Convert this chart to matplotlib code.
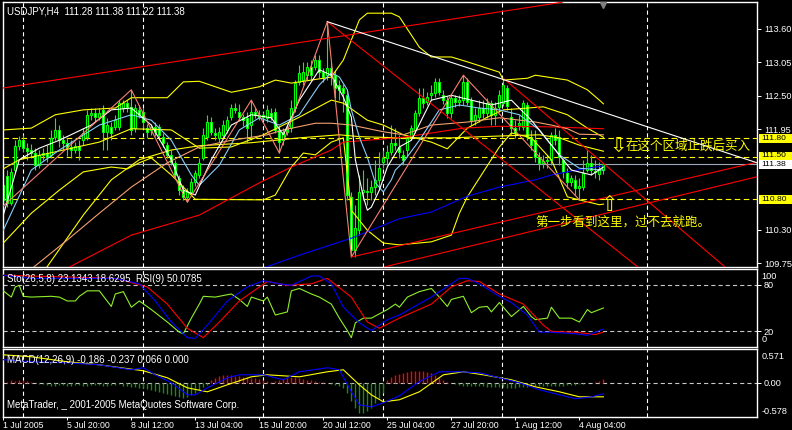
import numpy as np
import matplotlib.pyplot as plt
from matplotlib.patches import Rectangle

plt.rcParams['font.family'] = ['Liberation Sans', 'DejaVu Sans']
plt.rcParams['lines.scale_dashes'] = False

# USDJPY H4 bars, first bar = 1 Jul 2005 04:00
opens = [110.79, 111.18, 110.74, 111.28, 111.68, 111.77, 111.64, 111.61, 111.56, 111.36,
         111.53, 111.56, 111.53, 111.82, 111.94, 111.77, 111.73, 111.66, 111.61, 111.68,
         111.77, 111.82, 112.19, 112.22, 112.15, 112.27, 111.91, 111.99, 111.99, 111.99,
         112.30, 112.38, 112.32, 111.97, 112.27, 112.23, 111.97, 111.94, 111.99, 111.99,
         111.82, 111.69, 111.53, 111.40, 111.15, 110.95, 110.84, 110.92, 111.08, 111.20,
         111.48, 111.82, 112.07, 111.89, 111.81, 111.86, 111.94, 112.15, 112.30, 112.23,
         112.15, 112.14, 112.02, 112.23, 112.19, 112.15, 112.14, 112.22, 112.23, 111.94,
         111.77, 111.91, 111.97, 112.30, 112.73, 112.76, 112.84, 112.98, 112.98, 113.09,
         112.89, 112.84, 112.96, 112.84, 112.68, 112.63, 112.51, 110.84, 109.97, 110.29,
         110.92, 110.92, 110.92, 111.00, 111.12, 111.41, 111.48, 111.58, 111.73, 111.66,
         111.53, 111.61, 111.82, 111.94, 112.22, 112.47, 112.40, 112.51, 112.55, 112.73,
         112.51, 112.43, 112.22, 112.47, 112.40, 112.43, 112.73, 112.43, 112.10, 112.15,
         112.30, 112.22, 112.38, 112.19, 112.32, 112.38, 112.63, 112.15, 111.97, 112.02,
         111.99, 112.35, 111.82, 111.77, 111.49, 111.40, 111.43, 111.45, 111.86, 111.82,
         111.45, 111.23, 111.08, 111.12, 110.98, 111.00, 111.28, 111.40, 111.26, 111.22,
         111.28]
highs = [111.12, 111.28, 111.31, 111.77, 111.84, 111.86, 111.73, 111.71, 111.64, 111.61,
         111.64, 111.69, 111.94, 112.14, 112.02, 111.86, 111.81, 111.77, 111.74, 111.77,
         111.97, 112.27, 112.30, 112.30, 112.30, 112.35, 112.14, 112.07, 112.19, 112.43,
         112.43, 112.43, 112.60, 112.37, 112.35, 112.30, 112.04, 112.04, 112.07, 112.04,
         111.89, 111.74, 111.61, 111.45, 111.20, 111.03, 110.98, 111.15, 111.28, 111.48,
         111.97, 112.19, 112.15, 111.97, 111.99, 112.10, 112.17, 112.37, 112.38, 112.37,
         112.20, 112.23, 112.43, 112.30, 112.27, 112.23, 112.35, 112.30, 112.30, 112.00,
         111.97, 112.04, 112.43, 112.76, 113.01, 113.06, 113.06, 113.09, 113.17, 113.17,
         112.96, 113.72, 113.06, 112.93, 112.76, 112.70, 112.60, 110.92, 110.71, 111.20,
         111.28, 111.15, 111.12, 111.45, 111.58, 111.61, 111.69, 112.02, 111.97, 111.86,
         111.61, 111.86, 112.02, 112.27, 112.63, 112.63, 112.56, 112.68, 112.79, 112.79,
         112.60, 112.50, 112.51, 112.51, 112.51, 112.84, 112.79, 112.48, 112.30, 112.43,
         112.43, 112.47, 112.43, 112.40, 112.60, 112.79, 112.68, 112.30, 112.10, 112.19,
         112.43, 112.40, 111.94, 111.94, 111.58, 111.53, 111.53, 111.91, 111.97, 111.94,
         111.48, 111.31, 111.20, 111.20, 111.15, 111.45, 111.61, 111.53, 111.45, 111.41,
         111.38]
lows = [110.69, 110.67, 110.71, 111.25, 111.61, 111.58, 111.45, 111.48, 111.28, 111.31,
        111.45, 111.41, 111.48, 111.77, 111.66, 111.61, 111.51, 111.48, 111.56, 111.45,
        111.69, 111.77, 112.10, 112.07, 112.10, 111.61, 111.61, 111.77, 111.94, 111.94,
        112.23, 112.23, 111.86, 111.91, 112.14, 111.97, 111.81, 111.86, 111.84, 111.77,
        111.66, 111.48, 111.36, 111.15, 110.87, 110.79, 110.75, 110.87, 111.02, 111.15,
        111.45, 111.77, 111.86, 111.77, 111.74, 111.81, 111.89, 112.10, 112.22, 112.10,
        112.00, 111.74, 111.77, 112.14, 112.10, 112.10, 112.07, 112.10, 111.89, 111.56,
        111.69, 111.86, 111.91, 112.23, 112.68, 112.68, 112.76, 112.76, 112.93, 112.79,
        112.73, 112.76, 112.68, 112.47, 112.43, 112.23, 110.79, 109.85, 109.85, 110.21,
        110.79, 110.71, 110.79, 110.87, 110.95, 111.31, 111.36, 111.53, 111.61, 111.48,
        111.36, 111.49, 111.77, 111.89, 112.17, 112.30, 112.35, 112.43, 112.48, 112.51,
        112.37, 112.14, 112.14, 112.32, 112.33, 112.35, 112.35, 112.02, 112.02, 112.07,
        112.14, 112.14, 112.02, 112.02, 112.23, 112.33, 112.27, 111.86, 111.81, 111.94,
        111.94, 111.77, 111.61, 111.41, 111.28, 111.31, 111.31, 111.36, 111.69, 111.36,
        111.15, 110.98, 111.02, 110.87, 110.79, 110.95, 111.25, 111.20, 111.15, 111.12,
        111.22]
closes = [111.03, 110.74, 111.25, 111.68, 111.77, 111.64, 111.59, 111.56, 111.36, 111.53,
          111.56, 111.49, 111.81, 111.94, 111.77, 111.73, 111.66, 111.61, 111.68, 111.61,
          111.89, 112.19, 112.22, 112.15, 112.22, 111.91, 112.02, 111.89, 112.10, 112.38,
          112.38, 112.32, 111.94, 112.30, 112.19, 112.07, 111.91, 111.99, 111.91, 111.86,
          111.73, 111.53, 111.41, 111.20, 110.95, 110.84, 110.92, 111.08, 111.23, 111.40,
          111.86, 112.07, 111.91, 111.86, 111.91, 112.02, 112.10, 112.30, 112.27, 112.15,
          112.10, 111.97, 112.23, 112.19, 112.15, 112.19, 112.27, 112.15, 111.94, 111.74,
          111.91, 111.97, 112.30, 112.71, 112.88, 112.89, 112.98, 112.84, 113.09, 112.89,
          112.81, 112.96, 112.84, 112.63, 112.60, 112.55, 110.87, 109.97, 110.33, 110.92,
          110.95, 110.92, 111.00, 111.12, 111.31, 111.48, 111.58, 111.73, 111.69, 111.58,
          111.45, 111.81, 111.97, 112.22, 112.47, 112.38, 112.48, 112.55, 112.73, 112.56,
          112.43, 112.22, 112.47, 112.40, 112.43, 112.73, 112.40, 112.10, 112.19, 112.30,
          112.22, 112.38, 112.19, 112.30, 112.51, 112.68, 112.33, 111.97, 111.89, 112.05,
          112.38, 111.82, 111.69, 111.49, 111.40, 111.43, 111.45, 111.86, 111.77, 111.49,
          111.25, 111.08, 111.15, 110.98, 111.02, 111.23, 111.40, 111.28, 111.25, 111.28,
          111.38]

# zigzag turning bars (low, high, low, ...)
zz_bars = [0, 32, 46, 62, 69, 81, 87, 115, 144]

# moving averages / bands as (bar, price)
ma_white = [(0, 110.54), (4, 111.45), (9, 111.64), (14, 111.77), (22, 112.02), (27, 112.27), (32, 112.30),
            (37, 112.02), (42, 111.45), (45, 110.95), (48, 110.87), (52, 111.45), (57, 112.02), (62, 112.19),
            (67, 112.14), (70, 111.86), (74, 112.43), (79, 112.93), (82, 112.84), (85, 112.48), (87, 112.15),
            (88, 111.45), (90, 110.84), (91, 110.62), (92, 110.67), (94, 110.95), (96, 111.33), (99, 111.66),
            (102, 111.77), (107, 112.43), (112, 112.51), (117, 112.43), (122, 112.35), (127, 112.43),
            (132, 112.10), (137, 111.69), (142, 111.28), (147, 111.20), (150, 111.33)]
ma_skyblue = [(0, 110.29), (7, 111.28), (14, 111.61), (24, 112.02), (32, 112.19), (37, 112.10), (42, 111.77),
              (47, 111.20), (49, 111.03), (54, 111.36), (59, 111.94), (64, 112.14), (69, 112.02), (74, 112.19),
              (79, 112.68), (82, 112.88), (84, 112.81), (86, 112.60), (87, 112.27), (89, 111.82), (91, 111.49),
              (93, 111.07), (95, 110.92), (97, 111.12), (98, 111.28), (100, 111.41), (104, 111.77),
              (109, 112.27), (114, 112.35), (119, 112.30), (124, 112.27), (129, 112.19), (134, 111.94),
              (139, 111.53), (144, 111.31), (150, 111.28)]
ma_orange = [(6, 109.60), (16, 110.13), (24, 110.57), (32, 111.00), (41, 111.40), (49, 111.66), (57, 111.77),
             (66, 111.86), (70, 111.94), (78, 112.05), (82, 112.05), (87, 112.02), (95, 111.91), (100, 111.86),
             (107, 112.02), (116, 112.07), (124, 112.14), (133, 112.07), (137, 112.02), (141, 111.96),
             (144, 111.87), (150, 111.86)]
ma_yellow_slow = [(10, 109.60), (20, 110.54), (27, 111.12), (34, 111.45), (42, 111.61), (49, 111.68),
                  (62, 111.73), (74, 111.81), (84, 111.86), (89, 111.83), (99, 111.81), (112, 111.81),
                  (124, 111.84), (134, 111.86), (139, 111.81), (144, 111.69), (150, 111.59)]
ma_red = [(14, 109.60), (32, 110.21), (49, 110.54), (64, 111.07), (72, 111.33), (82, 111.61), (85, 111.74),
          (91, 111.77), (100, 111.82), (115, 111.97), (124, 112.00), (137, 111.99), (150, 111.96)]
ma_blue = [(62, 109.60), (74, 109.88), (87, 110.16), (99, 110.48), (107, 110.59), (116, 110.85), (124, 111.00),
           (133, 111.12), (137, 111.20), (145, 111.30), (150, 111.35)]
bb_upper = [(0, 111.94), (7, 111.97), (13, 112.19), (20, 112.27), (28, 112.30), (32, 112.47), (41, 112.47),
            (45, 112.73), (49, 112.74), (53, 112.65), (57, 112.56), (64, 112.65), (68, 112.76), (72, 112.71),
            (82, 112.81), (85, 113.09), (87, 113.42), (89, 113.75), (91, 113.86), (97, 113.86), (99, 113.80),
            (104, 113.30), (107, 113.14), (112, 113.14), (116, 113.06), (124, 112.89), (125, 112.76),
            (131, 112.79), (133, 112.84), (141, 112.76), (146, 112.60), (149, 112.43), (150, 112.37)]
bb_mid = [(0, 111.30), (4, 111.45), (13, 111.58), (24, 111.74), (32, 111.96), (42, 111.94), (49, 111.64),
          (57, 111.66), (65, 111.86), (74, 112.15), (82, 112.43), (85, 112.38), (91, 112.10), (95, 112.02),
          (100, 111.86), (107, 111.74), (111, 111.63), (116, 111.97), (121, 112.15), (125, 112.27),
          (135, 112.32), (141, 112.19), (146, 111.97), (150, 111.82)]
bb_lower = [(0, 110.08), (7, 110.57), (14, 110.95), (20, 111.25), (27, 111.33), (31, 111.30), (34, 111.40),
            (37, 111.48), (42, 111.20), (48, 110.80), (65, 110.79), (68, 110.87), (72, 111.33), (75, 111.56),
            (78, 111.53), (82, 111.74), (85, 111.81), (87, 110.62), (91, 110.29), (95, 110.08), (99, 110.05),
            (107, 110.10), (112, 110.21), (114, 110.57), (116, 110.84), (120, 111.25), (124, 111.66),
            (127, 111.89), (132, 111.81), (137, 111.45), (141, 110.84), (144, 110.79), (149, 110.71),
            (150, 110.72)]

# hand drawn objects: ((bar, price), (bar, price))
red_lines = [((0, 112.63), (139.7, 114.04)),
             ((81, 113.72), (188.4, 108.14)),
             ((125, 112.79), (188.4, 109.24)),
             ((87, 109.85), (188.4, 111.41)),
             ((95.4, 109.69), (188.4, 111.17))]
white_line = ((81, 113.72), (188.4, 111.40))
levels = [111.80, 111.50, 110.80]

# stochastic (26,5,8) and RSI(9)
sto_main = [(0, 92), (7, 88), (16, 88), (28, 88), (34, 81), (38, 59), (42, 32), (46, 12), (48, 11), (51, 28),
            (56, 59), (61, 77), (65, 85), (69, 81), (72, 79), (77, 91), (79, 91), (82, 81), (85, 51), (89, 31),
            (92, 21), (96, 35), (99, 41), (107, 64), (114, 88), (116, 88), (119, 81), (124, 65), (127, 57),
            (131, 41), (134, 19), (137, 19), (143, 17), (146, 15), (150, 23)]
sto_signal = [(0, 92), (28, 88), (36, 77), (41, 55), (46, 24), (50, 12), (54, 32), (59, 59), (66, 84), (71, 79),
              (77, 81), (81, 88), (87, 64), (91, 32), (94, 24), (99, 37), (107, 55), (112, 77), (116, 85),
              (119, 84), (124, 68), (130, 55), (135, 28), (137, 20), (143, 19), (148, 16), (150, 19)]
rsi = [(0, 72), (2, 64), (3, 77), (4, 79), (5, 65), (7, 64), (12, 65), (14, 64), (16, 59), (18, 59), (19, 65),
       (21, 72), (24, 72), (27, 52), (28, 68), (30, 71), (32, 51), (34, 59), (37, 48), (41, 32), (44, 19),
       (45, 17), (47, 37), (49, 55), (50, 65), (53, 64), (57, 68), (59, 61), (61, 52), (62, 64), (65, 59),
       (66, 64), (68, 41), (71, 45), (72, 72), (74, 75), (77, 68), (79, 64), (82, 55), (84, 37), (86, 21),
       (87, 12), (88, 31), (90, 37), (92, 37), (96, 48), (98, 55), (99, 51), (101, 64), (104, 71), (107, 75),
       (109, 64), (111, 52), (112, 61), (115, 65), (117, 44), (119, 51), (121, 52), (122, 45), (124, 57),
       (127, 39), (130, 52), (132, 39), (133, 35), (136, 37), (137, 51), (139, 37), (142, 37), (144, 32),
       (146, 48), (147, 44), (150, 50)]

# MACD(12,26,9)
macd_main = [(0, 0.39), (7, 0.355), (16, 0.338), (24, 0.304), (32, 0.22), (35, 0.254), (38, 0.135), (42, 0.0),
             (46, -0.203), (48, -0.203), (51, -0.085), (56, 0.085), (59, 0.135), (65, 0.135), (70, 0.051),
             (74, 0.186), (81, 0.254), (84, 0.22), (87, -0.152), (89, -0.372), (92, -0.406), (95, -0.338),
             (99, -0.22), (104, 0.02), (109, 0.186), (114, 0.186), (119, 0.169), (124, 0.085), (129, 0.0),
             (134, -0.118), (139, -0.203), (143, -0.27), (147, -0.237), (150, -0.186)]
macd_signal = [(0, 0.473), (7, 0.44), (16, 0.355), (24, 0.304), (35, 0.203), (41, 0.085), (46, -0.085),
               (51, -0.152), (56, -0.034), (62, 0.101), (66, 0.135), (74, 0.101), (81, 0.186), (85, 0.22),
               (89, -0.034), (92, -0.203), (95, -0.321), (99, -0.287), (104, -0.152), (110, 0.135),
               (115, 0.186), (120, 0.135), (127, 0.051), (133, -0.068), (139, -0.152), (144, -0.237),
               (150, -0.237)]
macd_hist = [0.03, 0.02, 0.05, 0.03, 0.05, 0.05, 0.03, 0.02, 0.0, -0.02,
             -0.02, -0.03, -0.05, -0.05, -0.03, -0.03, -0.05, -0.05, -0.03, -0.03,
             -0.05, -0.05, -0.03, -0.03, -0.03, -0.05, -0.05, -0.03, -0.03, -0.02,
             -0.05, -0.05, -0.07, -0.07, -0.08, -0.08, -0.10, -0.12, -0.14, -0.15,
             -0.17, -0.19, -0.20, -0.22, -0.24, -0.25, -0.24, -0.20, -0.17, -0.12,
             -0.07, -0.03, 0.05, 0.08, 0.12, 0.14, 0.14, 0.14, 0.12, 0.12,
             0.10, 0.10, 0.08, 0.08, 0.07, 0.05, 0.03, 0.02, 0.03, 0.05,
             0.07, 0.08, 0.10, 0.10, 0.08, 0.07, 0.05, 0.05, 0.03, 0.02,
             0.02, 0.0, -0.02, -0.03, -0.05, -0.08, -0.17, -0.30, -0.42, -0.51,
             -0.51, -0.47, -0.42, -0.34, -0.25, -0.17, 0.05, 0.10, 0.14, 0.15,
             0.17, 0.19, 0.20, 0.20, 0.20, 0.20, 0.19, 0.17, 0.14, 0.08,
             0.05, 0.02, 0.0, -0.02, -0.03, -0.05, -0.05, -0.05, -0.05, -0.05,
             -0.05, -0.07, -0.07, -0.07, -0.07, -0.07, -0.08, -0.08, -0.08, -0.07,
             -0.07, -0.07, -0.05, -0.05, -0.05, -0.05, -0.05, -0.05, -0.05, -0.05,
             -0.05, -0.03, -0.03, -0.03, -0.02, -0.02, 0.0, 0.0, 0.02, 0.03,
             0.066]

main_ticks = [113.60, 113.05, 112.50, 111.95, 110.30, 109.75]
date_labels = ['1 Jul 2005', '5 Jul 20:00', '8 Jul 12:00', '13 Jul 04:00', '15 Jul 20:00',
               '20 Jul 12:00', '25 Jul 04:00', '27 Jul 20:00', '1 Aug 12:00', '4 Aug 04:00']
week_bars = [4.85, 34.85, 64.85, 94.85, 124.75, 160.85]

o = np.array(opens); h = np.array(highs); l = np.array(lows); c = np.array(closes)
x = np.arange(len(c))

FS = 6.6
DASH = (0, (3, 2.2))
fig = plt.figure(figsize=(7.92, 4.30), dpi=100, facecolor='black')


def panel(top, bottom):
    a = fig.add_axes([3 / 792, 1 - bottom / 430, 754 / 792, (bottom - top) / 430])
    a.set_facecolor('black')
    for s in a.spines.values():
        s.set_color('white')
        s.set_linewidth(1)
    a.set_xlim(-0.075, 188.4)
    a.yaxis.tick_right()
    a.tick_params(colors='white', labelsize=FS, length=3, width=0.7, pad=2)
    a.set_xticks([])
    for wb in week_bars:
        a.axvline(wb, color='white', lw=0.8, ls=DASH, zorder=0.5)
    return a


def trace(a, pts, color, lw=0.8, z=3):
    px, py = zip(*pts)
    a.plot(px, py, color=color, lw=lw, zorder=z)


# ---------- main price chart ----------
ax = panel(2, 267)
ax.set_ylim(109.686, 114.044)
ax.set_yticks(main_ticks)
ax.set_yticklabels(['%.2f' % t for t in main_ticks])

for lv in levels:
    ax.axhline(lv, color='#ffff00', lw=0.8, ls=(0, (4, 2.5)), zorder=1)
ax.axhline(c[-1], color='#9aa8b8', lw=0.8, zorder=1)

# candles: bull = black body, bear = white body, lime outline
ax.vlines(x, l, h, color='#00ff00', lw=0.8, zorder=2)
body = np.maximum(np.abs(c - o), 0.008)
face = np.where(c >= o, 'black', 'white')
ax.bar(x, body, bottom=np.minimum(o, c), width=0.55, color=face, edgecolor='#00ff00',
       linewidth=0.8, zorder=2.1)

trace(ax, bb_upper, '#ffff00')
trace(ax, bb_mid, '#ffff00')
trace(ax, bb_lower, '#ffff00')
trace(ax, ma_yellow_slow, '#ffff00')
trace(ax, ma_red, '#ff0000')
trace(ax, ma_orange, '#f4a070')
trace(ax, ma_blue, '#0000ff')
trace(ax, ma_skyblue, '#87cefa')
trace(ax, ma_white, 'white')

zz_price = [l[b] if k % 2 == 0 else h[b] for k, b in enumerate(zz_bars)]
ax.plot(zz_bars, zz_price, color='#fa8072', lw=0.8, zorder=3.2)

for (x1, y1), (x2, y2) in red_lines:
    ax.plot([x1, x2], [y1, y2], color='#ff0000', lw=0.8, zorder=3.5)
(x1, y1), (x2, y2) = white_line
ax.plot([x1, x2], [y1, y2], color='white', lw=0.8, zorder=3.5)

# price boxes on the right scale
ytr = ax.get_yaxis_transform()
for lv, bg, dy in [(111.80, '#ffff00', 0), (111.50, '#ffff00', 0.012), (110.80, '#ffff00', 0),
                   (c[-1], 'white', -0.012)]:
    ax.add_patch(Rectangle((1.002, lv + dy - 0.07), 33 / 754, 0.14, transform=ytr, fc=bg, ec='none',
                           clip_on=False, zorder=9))
    ax.text(1.006, lv + dy, '%.2f' % lv, transform=ytr, ha='left', va='center', fontsize=FS - 0.5,
            color='black', clip_on=False, zorder=10)

ax.text(4 / 754, 1 - 9 / 265, 'USDJPY,H4  %.2f %.2f %.2f %.2f' % (o[-1], h[-1], l[-1], c[-1]),
        transform=ax.transAxes, color='white', fontsize=FS + 0.4, va='center')
ax.plot([x[-1]], [113.99], marker='v', color='#808080', ms=5, zorder=5, clip_on=False)

cjk = ['Noto Sans CJK SC', 'DejaVu Sans']
ax.text(153.6, 111.68, '⇩', color='#ffff00', fontsize=15, family=['DejaVu Sans'],
        ha='center', va='center', zorder=6)
ax.text(155.6, 111.68, '在这个区域止跌后买入', color='#ffff00', fontsize=9, family=cjk,
        ha='left', va='center', zorder=6)
ax.text(132.9, 110.42, '第一步看到这里，过不去就跑。', color='#ffff00', fontsize=9, family=cjk,
        ha='left', va='center', zorder=6)
ax.text(151.4, 110.70, '⇧', color='#ffff00', fontsize=15, family=['DejaVu Sans'],
        ha='center', va='center', zorder=6)

# ---------- stochastic + RSI ----------
ax2 = panel(269, 347)
ax2.set_ylim(0, 100)
for lv in (80, 20):
    ax2.axhline(lv, color='#c8c8c8', lw=0.8, ls=DASH, zorder=1)
ax2.set_yticks([80, 20])
ax2.set_yticklabels(['80', '20'])
ytr2 = ax2.get_yaxis_transform()
ax2.text(1.006, 90, '100', transform=ytr2, color='white', fontsize=FS, va='center', clip_on=False)
ax2.text(1.006, 9, '0', transform=ytr2, color='white', fontsize=FS, va='center', clip_on=False)
trace(ax2, rsi, '#8ef02a')
trace(ax2, sto_signal, '#ff0000')
trace(ax2, sto_main, '#0000ff')
ax2.text(4 / 754, 1 - 10 / 78, 'Sto(26,5,8) 23.1343 18.6295  RSI(9) 50.0785', transform=ax2.transAxes,
         color='white', fontsize=FS + 0.4, va='center')

# ---------- MACD ----------
ax3 = panel(349, 417)
ax3.set_ylim(-0.578, 0.571)
ax3.axhline(0, color='#c8c8c8', lw=0.8, ls=DASH, zorder=1)
hist = np.array(macd_hist)
ax3.vlines(x, 0, hist, colors=np.where(hist >= 0, '#ff0000', '#1f8a10'), lw=1.0, zorder=2)
trace(ax3, macd_signal, '#ffff00')
trace(ax3, macd_main, '#0000ff')
ax3.set_yticks([0])
ax3.set_yticklabels(['0.00'])
ytr3 = ax3.get_yaxis_transform()
ax3.text(1.006, 0.436, '0.571', transform=ytr3, color='white', fontsize=FS, va='center', clip_on=False)
ax3.text(1.006, -0.477, '-0.578', transform=ytr3, color='white', fontsize=FS, va='center', clip_on=False)
ax3.text(4 / 754, 1 - 11 / 68, 'MACD(12,26,9) -0.186 -0.237 0.066 0.000', transform=ax3.transAxes,
         color='white', fontsize=FS + 0.4, va='center')
ax3.text(4 / 754, 12 / 68, 'MetaTrader, _ 2001-2005 MetaQuotes Software Corp.', transform=ax3.transAxes,
         color='white', fontsize=FS + 0.4, va='center')

ax3.set_xticks(np.arange(len(date_labels)) * 16)
ax3.set_xticklabels(date_labels)
ax3.tick_params(axis='x', colors='white', length=2.5, pad=0.5, labelsize=6.3)
for t in ax3.get_xticklabels():
    t.set_ha('left')

fig.savefig('out.png', dpi=100, facecolor='black')
